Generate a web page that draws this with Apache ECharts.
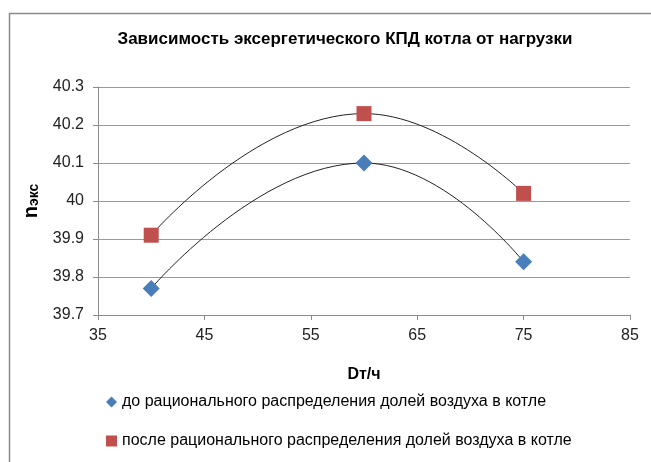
<!DOCTYPE html>
<html><head><meta charset="utf-8">
<script src="https://cdn.jsdelivr.net/npm/echarts@6/dist/echarts.min.js"></script>
<style>html,body{margin:0;padding:0;background:#fff}#c{width:651px;height:462px}</style>
</head><body><div id="c"></div>
<script>
const xValues = [40, 60, 75];
const seriesBefore = [39.77, 40.10, 39.84];
const seriesAfter = [39.91, 40.23, 40.02];
const seriesNames = ['до рационального распределения долей воздуха в котле', 'после рационального распределения долей воздуха в котле'];
const titleText = 'Зависимость эксергетического КПД котла от нагрузки';
const xTicks = [35, 45, 55, 65, 75, 85];
const yTicks = [39.7, 39.8, 39.9, 40, 40.1, 40.2, 40.3];

const FONT = '"Liberation Sans Narrow", "Liberation Sans", sans-serif';
const pts = a => xValues.map((x, i) => [x, a[i]]);
const chart = echarts.init(document.getElementById('c'));
chart.setOption({
  animation: false,
  graphic: [{type: 'rect', shape: {x: 9.5, y: 13.5, width: 700, height: 500}, style: {fill: 'none', stroke: '#8a8a8a', lineWidth: 1.5}, z: -1}],
  title: {text: titleText, left: 340, top: 26, textAlign: 'center', textStyle: {fontFamily: FONT, fontWeight: 'bold', fontSize: 17, color: '#000'}},
  grid: {left: 98, right: 21, top: 87, bottom: 147},
  legend: {
    orient: 'vertical', left: 101, top: 389, itemGap: 23, itemWidth: 11, itemHeight: 11,
    textStyle: {fontFamily: FONT, fontSize: 16, color: '#000'},
    data: [{name: seriesNames[0], icon: 'diamond'}, {name: seriesNames[1], icon: 'rect'}]
  },
  xAxis: {
    type: 'value', min: 35, max: 85, interval: 10,
    name: 'Dт/ч', nameLocation: 'middle', nameGap: 52,
    nameTextStyle: {fontFamily: FONT, fontWeight: 'bold', fontSize: 16, color: '#000'},
    axisLine: {lineStyle: {color: '#8c8c8c'}},
    axisTick: {show: true, length: 5, lineStyle: {color: '#8c8c8c'}},
    axisLabel: {fontFamily: FONT, fontSize: 16, color: '#222', margin: 13, formatter: v => xTicks.includes(v) ? String(v) : ''},
    splitLine: {show: false}
  },
  yAxis: {
    type: 'value', min: 39.7, max: 40.3, interval: 0.1,
    name: '{a|n}{b|экс}', nameLocation: 'middle', nameGap: 52, nameRotate: 90,
    nameTextStyle: {rich: {a: {fontFamily: FONT, fontWeight: 'bold', fontSize: 20, color: '#000'}, b: {fontFamily: FONT, fontWeight: 'bold', fontSize: 14, color: '#000', padding: [4, 0, 0, 0]}}},
    axisLine: {show: true, lineStyle: {color: '#8c8c8c'}},
    axisTick: {show: true, length: 5, lineStyle: {color: '#8c8c8c'}},
    axisLabel: {fontFamily: FONT, fontSize: 16, color: '#222', margin: 14, formatter: v => {const t = yTicks.find(y => Math.abs(y - v) < 1e-6); return t === undefined ? '' : String(t);}},
    splitLine: {show: true, lineStyle: {color: '#9a9a9a', width: 1}}
  },
  series: [
    {name: seriesNames[0], type: 'line', data: pts(seriesBefore), smooth: 0.5, symbol: 'diamond', symbolSize: 17,
     itemStyle: {color: '#4a7ebb'}, lineStyle: {color: '#222', width: 1}, z: 3},
    {name: seriesNames[1], type: 'line', data: pts(seriesAfter), smooth: 0.5, symbol: 'rect', symbolSize: 15,
     itemStyle: {color: '#c0504d'}, lineStyle: {color: '#222', width: 1}, z: 3}
  ]
});
</script></body></html>
